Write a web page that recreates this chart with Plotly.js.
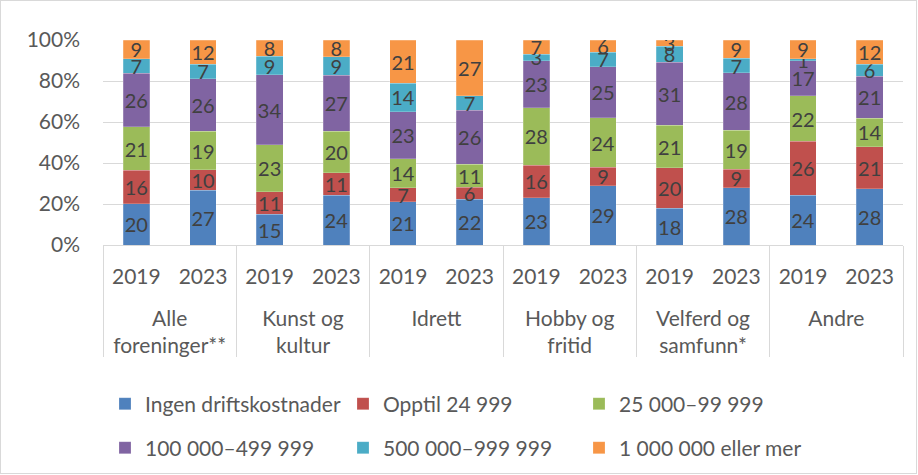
<!DOCTYPE html>
<html>
<head>
<meta charset="utf-8">
<script src="https://cdn.plot.ly/plotly-3.0.1.min.js"></script>
<style>
html,body{margin:0;padding:0;background:#fff;}
#wrap{position:absolute;left:0;top:0;width:915px;height:472px;border:1px solid #d9d9d9;}
#chart{width:915px;height:472px;}
</style>
</head>
<body>
<div id="wrap"><div id="chart"></div></div>
<script>
const groups = ["<br>Alle<br>foreninger**","<br>Kunst og<br>kultur","<br>Idrett","<br>Hobby og<br>fritid","<br>Velferd og<br>samfunn*","<br>Andre"];
const years = ["2019","2023"];
const seriesNames = ["Ingen driftskostnader","Opptil 24 999","25 000–99 999","100 000–499 999","500 000–999 999","1 000 000 eller mer"];
const colors = ["#4F81BD","#C0504D","#9BBB59","#8064A2","#4BACC6","#F79646"];
const ingen   = [20,27,15,24,21,22,23,29,18,28,24,28];
const opptil  = [16,10,11,11,7,6,16,9,20,9,26,21];
const k25     = [21,19,23,20,14,11,28,24,21,19,22,14];
const k100    = [26,26,34,27,23,26,23,25,31,28,17,21];
const k500    = [7,7,9,9,14,7,3,7,8,7,1,6];
const m1      = [9,12,8,8,21,27,7,6,3,9,9,12];
const values = [ingen,opptil,k25,k100,k500,m1];
const yTicks = [0,20,40,60,80,100];
const yTickText = ["0%","20%","40%","60%","80%","100%"];

const xOuter = [], xInner = [];
groups.forEach(g => years.forEach(y => { xOuter.push(g); xInner.push(y); }));

const FONT = "Lato";
const legendIds = ["legend","legend2","legend3","legend4","legend5","legend6"];
const traces = values.map((v,i) => ({
  type: "bar",
  name: seriesNames[i],
  x: [xOuter, xInner],
  y: v,
  text: v.map(String),
  textposition: "inside",
  insidetextanchor: "middle",
  constraintext: "none",
  textangle: 0,
  textfont: {family: FONT, size: 20, color: "#404040"},
  marker: {color: colors[i], line: {color: "rgba(255,255,255,0.35)", width: 0.6}},
  hoverinfo: "skip",
  legend: legendIds[i]
}));

const W = 915, H = 472;
const colX = [104, 342, 578];
const rowY = [403, 447];
function legendAt(col, row) {
  return {
    orientation: "h",
    xref: "container", yref: "container",
    x: colX[col] / W, xanchor: "left",
    y: 1 - rowY[row] / H, yanchor: "middle",
    font: {family: FONT, size: 21, color: "#595959"},
    bgcolor: "rgba(0,0,0,0)",
    itemclick: false, itemdoubleclick: false
  };
}

const layout = {
  width: W, height: H,
  margin: {l: 102, r: 13, t: 39, b: 228},
  barmode: "stack",
  barnorm: "percent",
  bargap: 0.6,
  paper_bgcolor: "#fff",
  plot_bgcolor: "#fff",
  font: {family: FONT, size: 21, color: "#595959"},
  showlegend: true,
  xaxis: {
    type: "multicategory",
    showgrid: false,
    showline: true, linecolor: "#d9d9d9", linewidth: 1,
    showdividers: true, dividercolor: "#d9d9d9", dividerwidth: 1,
    tickfont: {family: FONT, size: 21, color: "#595959"},
    ticks: "", ticklen: 0,
    ticklabelstandoff: 13
  },
  yaxis: {
    range: [0, 100], tickmode: "array", tickvals: yTicks, ticktext: yTickText,
    showgrid: true, gridcolor: "#d9d9d9", gridwidth: 1,
    zeroline: false, showline: false,
    tickfont: {family: FONT, size: 21, color: "#595959"},
    ticklabelstandoff: 22
  },
  legend: legendAt(0,0),
  legend2: legendAt(1,0),
  legend3: legendAt(2,0),
  legend4: legendAt(0,1),
  legend5: legendAt(1,1),
  legend6: legendAt(2,1)
};

Plotly.newPlot("chart", traces, layout, {displayModeBar: false, staticPlot: true});
</script>
</body>
</html>
